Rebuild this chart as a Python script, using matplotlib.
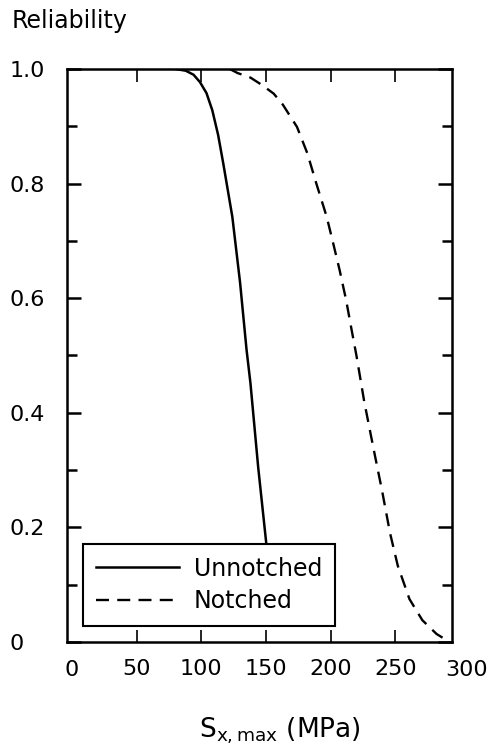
import numpy as np
import matplotlib
matplotlib.use("Agg")
import matplotlib.pyplot as plt
from matplotlib.ticker import MultipleLocator

plt.rcParams['font.family'] = ['DejaVu Sans']

# Unnotched (solid)
unnotched_s = [80, 88, 94, 99, 104, 108.5, 113, 117, 124, 130, 135, 138, 144, 150.4]
unnotched_r = [1.0, 0.997, 0.99, 0.977, 0.958, 0.928, 0.885, 0.835, 0.742, 0.627,
               0.51, 0.452, 0.305, 0.169]

# Notched (dashed)
notched_s = [122, 128, 138, 147, 156, 163, 174, 182, 189, 197, 202, 207, 212, 216,
             220, 226, 233, 240, 246, 252, 261, 271, 282, 292]
notched_r = [1.0, 0.993, 0.985, 0.972, 0.957, 0.938, 0.899, 0.853, 0.80, 0.742,
             0.696, 0.649, 0.597, 0.548, 0.50, 0.42, 0.34, 0.262, 0.19, 0.133,
             0.075, 0.038, 0.014, 0.0]

x_ticks = [50, 100, 150, 200, 250]
x_labels = ['50', '100', '150', '200', '250']
x_end_labels = [(0, '0'), (305, '300')]
y_ticks = [0, 0.2, 0.4, 0.6, 0.8, 1.0]
y_labels = ['0', '0.2', '0.4', '0.6', '0.8', '1.0']

fig = plt.figure(figsize=(4.99, 7.5), dpi=100)
ax = fig.add_axes([0.134, 0.144, 0.772, 0.764])

ax.plot(unnotched_s, unnotched_r, color='black', lw=1.8, label='Unnotched')
ax.plot(notched_s, notched_r, color='black', lw=1.7, dashes=(5.5, 3.5), label='Notched')

ax.set_xlim(-4, 294)
ax.set_ylim(0, 1.0)

ax.set_xticks(x_ticks)
ax.set_xticklabels(x_labels, fontsize=16)
ax.set_yticks(y_ticks)
ax.set_yticklabels(y_labels, fontsize=16, ha='left')
ax.yaxis.set_minor_locator(MultipleLocator(0.1))

ax.tick_params(axis='x', which='both', direction='in', top=True, length=9, width=1.2, pad=12)
ax.tick_params(axis='y', which='major', direction='in', right=True, length=10, width=1.8, pad=41)
ax.tick_params(axis='y', which='minor', direction='in', right=True, length=7, width=1.8)

for sp in ax.spines.values():
    sp.set_linewidth(1.8)

# end labels of the x axis without ticks
for xv, txt in x_end_labels:
    ax.text(xv, -0.031, txt, fontsize=16, ha='center', va='top')

leg = ax.legend(loc='lower left', bbox_to_anchor=(0.042, 0.028), borderaxespad=0,
                fancybox=False, edgecolor='black', framealpha=1, fontsize=17,
                handlelength=3.5, handletextpad=0.65, labelspacing=0.35,
                borderpad=0.55)
leg.get_frame().set_linewidth(1.5)

fig.text(0.024, 0.963, 'Reliability', fontsize=17, ha='left', va='baseline')
fig.text(0.561, 0.017, r'$\mathregular{S_{x,max}}$ (MPa)', fontsize=19,
         ha='center', va='baseline')

fig.savefig('out.png', dpi=100)
